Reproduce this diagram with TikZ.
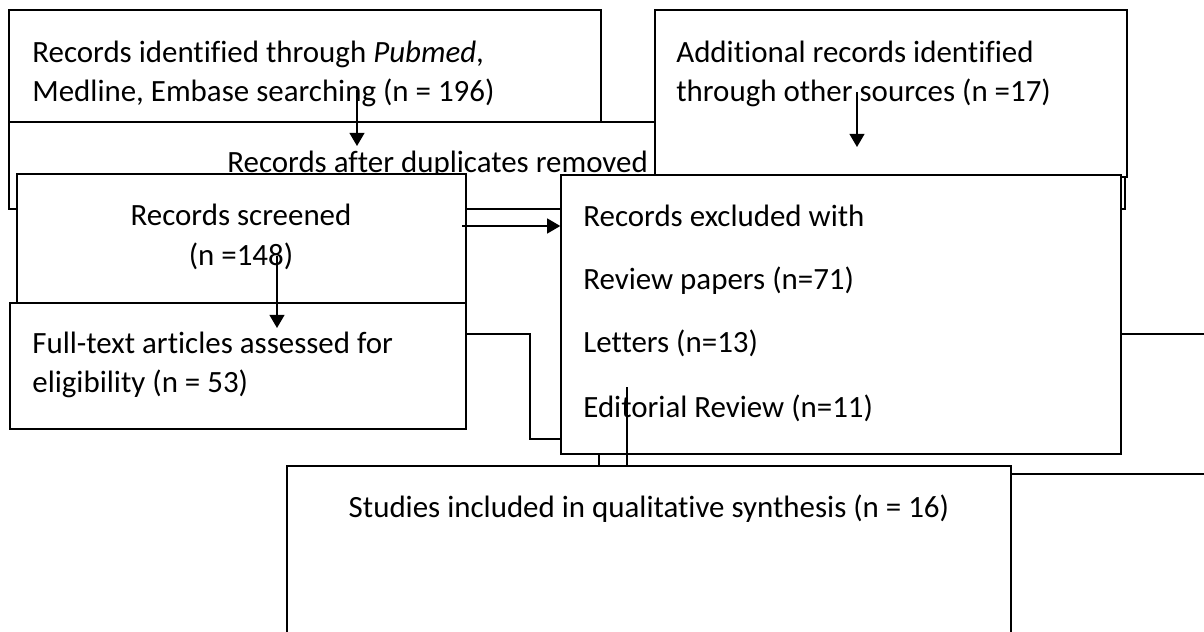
\documentclass[tikz,border=0pt]{standalone}
\usepackage{fontspec}
\setmainfont{Carlito}[Ligatures=NoCommon]
\usetikzlibrary{arrows.meta,fit}
\tikzset{
  box/.style={draw,line width=0.8pt,fill=white,inner sep=0pt},
  lbl/.style={font=\fontsize{17.6}{21}\selectfont,inner sep=0pt},
  arr/.style={line width=1pt,-{Triangle[length=7.5pt,width=8.5pt]}},
  link/.style={line width=1.1pt}
}
\newcommand{\pbox}[3]{\node[box,fit={(#2) (#3)}] (#1) {};}

\begin{document}
\begin{tikzpicture}[x=0.02cm,y=-0.02cm]
\clip (0,0) rectangle (1204,632);
% identification
\pbox{bSearch}{9,10}{601,140}
\node[lbl,anchor=base west] (tSearchA) at (32,62) {Records identified through \textit{Pubmed},};
\node[lbl,anchor=base west] (tSearchB) at (32,101) {Medline, Embase searching (n = 196)};
\pbox{bDup}{9,122}{1125,209}
\node[lbl,anchor=base west] (tDup) at (227,172) {Records after duplicates removed};
\coordinate (sOut) at (357,90); \coordinate (sIn) at (357,146);
\draw[arr] (sOut) -- (sIn);
\pbox{bOther}{655,10}{1127,177}
\node[lbl,anchor=base west] (tOtherA) at (676,62) {Additional records identified};
\node[lbl,anchor=base west] (tOtherB) at (676,101) {through other sources (n =17)};
\coordinate (oOut) at (857,92); \coordinate (oIn) at (857,147);
\draw[arr] (oOut) -- (oIn);
% hidden box behind the exclusions
\pbox{bBack}{599,334}{1260,474}
% screening
\pbox{bScreen}{17,174}{466,303}
\node[lbl,anchor=base] (tScreenA) at (241,225) {Records screened};
\node[lbl,anchor=base] (tScreenB) at (241,265) {(n =148)};
\pbox{bFull}{10,303}{466,429}
\node[lbl,anchor=base west] (tFullA) at (32,353) {Full-text articles assessed for};
\node[lbl,anchor=base west] (tFullB) at (32,392) {eligibility (n = 53)};
\coordinate (scOut) at (277,256);
\draw[arr] (scOut) -- (scOut |- 0,328);
\coordinate (fOut) at (466,334); \coordinate (eIn) at (561,439);
\draw[link] (fOut) -| (530,439) -- (eIn);
% exclusions
\pbox{bExcl}{561,175}{1121,454}
\node[lbl,anchor=base west] (tExclA) at (583,226) {Records excluded with};
\node[lbl,anchor=base west] (tExclB) at (583,289) {Review papers (n=71)};
\node[lbl,anchor=base west] (tExclC) at (583,352) {Letters (n=13)};
\node[lbl,anchor=base west] (tExclD) at (583,417) {Editorial Review (n=11)};
\coordinate (dOut) at (462,226);
\draw[arr] (dOut) -- (dOut -| bExcl.west);
\coordinate (eOut) at (627,387);
\draw[link] (eOut) -- (627,466);
% included
\pbox{bIncl}{287,466}{1011,660}
\node[lbl,anchor=base] (tIncl) at (649,517) {Studies included in qualitative synthesis (n = 16)};
\end{tikzpicture}
\end{document}
